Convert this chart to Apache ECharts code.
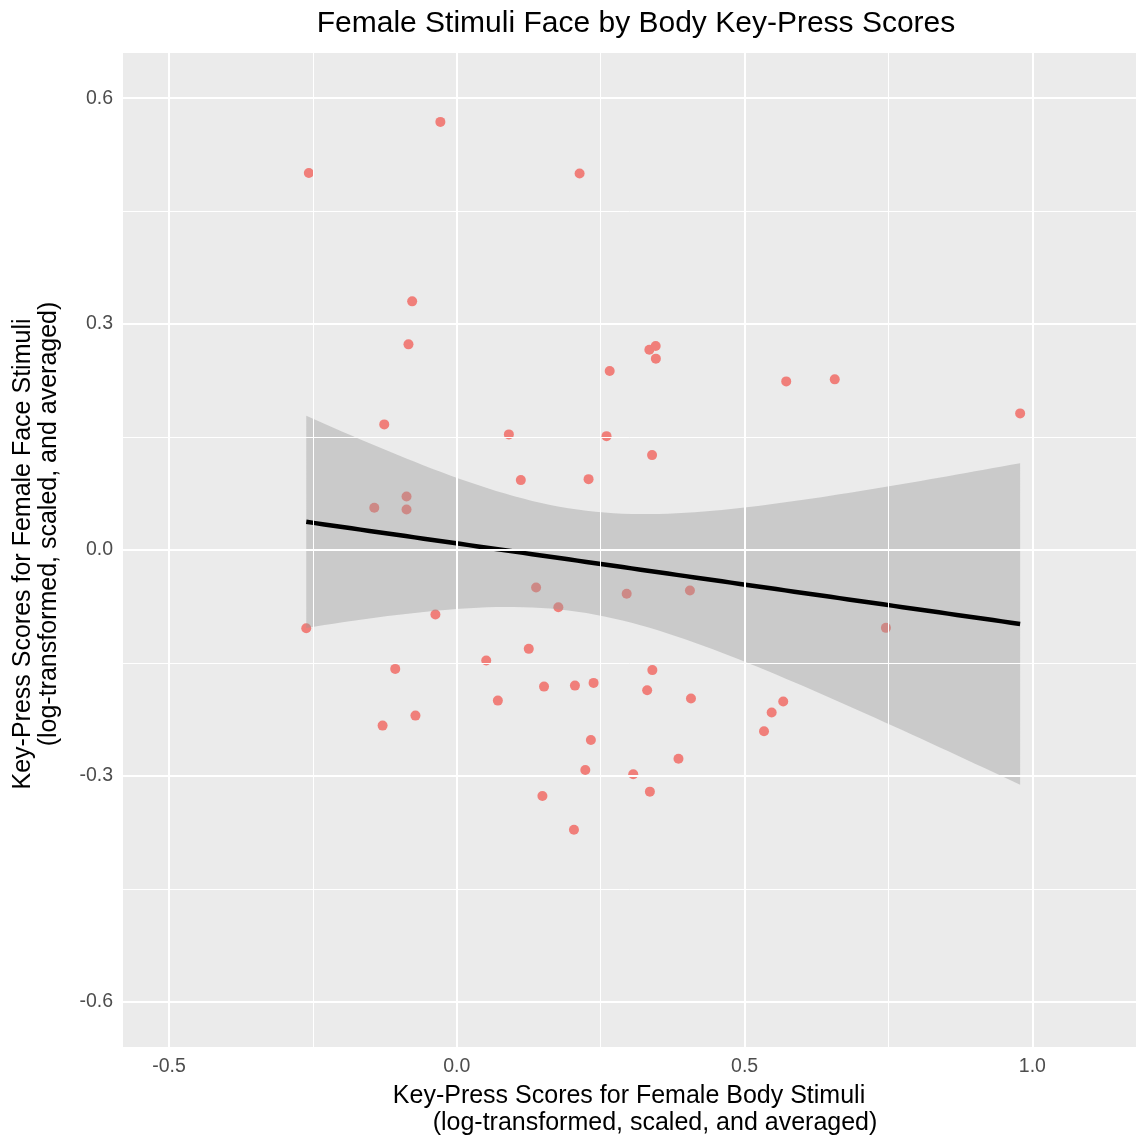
<!DOCTYPE html>
<html>
<head>
<meta charset="utf-8">
<script src="https://cdn.jsdelivr.net/npm/echarts@6/dist/echarts.min.js"></script>
<style>
html,body{margin:0;padding:0;background:#fff;}
#chart{width:1136px;height:1140px;}
</style>
</head>
<body>
<div id="chart"></div>
<script>
// ---- data ----
const bodyScores = [
  -0.2571, -0.0286, 0.2133, -0.0776, -0.0840, 0.3345, 0.3455, 0.3458, 0.2656, 0.5723,
  0.6566, 0.9787, -0.1261, 0.0904, 0.2601, 0.3392, 0.1112, 0.2289, -0.0874, -0.1434,
  -0.0874, 0.1377, 0.1764, 0.2951, 0.4050, 0.7455, -0.2616, -0.0372, 0.0511, 0.1250,
  -0.1070, 0.3397, 0.1515, 0.2052, 0.2376, 0.3307, 0.0713, 0.4068, 0.5671, 0.5470,
  -0.0719, -0.1290, 0.5337, 0.2329, 0.3851, 0.2232, 0.3065, 0.3354, 0.1487, 0.2035
];
const faceScores = [
  0.5007, 0.5685, 0.4999, 0.3302, 0.2731, 0.2660, 0.2708, 0.2541, 0.2376, 0.2239,
  0.2266, 0.1814, 0.1668, 0.1535, 0.1512, 0.1260, 0.0928, 0.0941, 0.0711, 0.0561,
  0.0538, -0.0498, -0.0760, -0.0582, -0.0538, -0.1034, -0.1039, -0.0857, -0.1468, -0.1313,
  -0.1579, -0.1595, -0.1814, -0.1801, -0.1765, -0.1863, -0.2000, -0.1973, -0.2013, -0.2159,
  -0.2199, -0.2332, -0.2408, -0.2522, -0.2773, -0.2921, -0.2977, -0.3209, -0.3266, -0.3714
];
const xTicks = [-0.5, 0.0, 0.5, 1.0];
const xMinorTicks = [-0.25, 0.25, 0.75];
const yTicks = [-0.6, -0.3, 0.0, 0.3, 0.6];
const yMinorTicks = [-0.45, -0.15, 0.15, 0.45];
const xLimits = [-0.58, 1.18];
const yLimits = [-0.66, 0.66];

const titleText = 'Female Stimuli Face by Body Key-Press Scores';
const xTitle1 = 'Key-Press Scores for Female Body Stimuli';
const xTitle2 = '(log-transformed, scaled, and averaged)';
const yTitle1 = 'Key-Press Scores for Female Face Stimuli';
const yTitle2 = '(log-transformed, scaled, and averaged)';

// ---- linear model + 95% confidence band (like geom_smooth(method="lm")) ----
const n = bodyScores.length;
const xbar = bodyScores.reduce((a, b) => a + b, 0) / n;
const ybar = faceScores.reduce((a, b) => a + b, 0) / n;
let sxx = 0, sxy = 0;
for (let i = 0; i < n; i++) {
  sxx += (bodyScores[i] - xbar) ** 2;
  sxy += (bodyScores[i] - xbar) * (faceScores[i] - ybar);
}
const slope = sxy / sxx;
const intercept = ybar - slope * xbar;
let sse = 0;
for (let i = 0; i < n; i++) {
  const r = faceScores[i] - (intercept + slope * bodyScores[i]);
  sse += r * r;
}
const sigma = Math.sqrt(sse / (n - 2));
function tQuantile975(df) {
  const z = 1.959963985;
  const z3 = z ** 3, z5 = z ** 5, z7 = z ** 7;
  return z + (z3 + z) / (4 * df) + (5 * z5 + 16 * z3 + 3 * z) / (96 * df * df)
    + (3 * z7 + 19 * z5 + 17 * z3 - 15 * z) / (384 * df ** 3);
}
const tq = tQuantile975(n - 2);
const xMin = Math.min(...bodyScores), xMax = Math.max(...bodyScores);
const fitLine = [], upper = [], lower = [];
const steps = 80;
for (let k = 0; k < steps; k++) {
  const x = xMin + (xMax - xMin) * k / (steps - 1);
  const fit = intercept + slope * x;
  const se = sigma * Math.sqrt(1 / n + (x - xbar) ** 2 / sxx);
  fitLine.push([x, fit]);
  upper.push([x, fit + tq * se]);
  lower.push([x, fit - tq * se]);
}

const FONT = '"Liberation Sans", Arial, Helvetica, sans-serif';
const chart = echarts.init(document.getElementById('chart'), null, {renderer: 'canvas'});

const gridLineData = []
  .concat(xMinorTicks.map(v => ({xAxis: v, lineStyle: {width: 1}})))
  .concat(yMinorTicks.map(v => ({yAxis: v, lineStyle: {width: 1}})))
  .concat(xTicks.map(v => ({xAxis: v, lineStyle: {width: 2}})))
  .concat(yTicks.map(v => ({yAxis: v, lineStyle: {width: 2}})));

const option = {
  animation: false,
  backgroundColor: '#ffffff',
  title: {
    text: titleText,
    left: 631,
    top: 4,
    textAlign: 'center',
    textStyle: {fontFamily: FONT, fontSize: 30, fontWeight: 'normal', color: '#000000'}
  },
  grid: {
    left: 123, top: 53, right: -3, bottom: 93,
    show: true, backgroundColor: '#EBEBEB', borderWidth: 0
  },
  xAxis: {
    type: 'value', min: xLimits[0], max: xLimits[1],
    axisLine: {show: false},
    axisTick: {show: true, length: 5, customValues: xTicks, lineStyle: {color: '#333333', width: 2}},
    axisLabel: {customValues: xTicks, margin: 10, color: '#4D4D4D', fontSize: 19.5, fontFamily: FONT,
      formatter: v => v.toFixed(1)},
    splitLine: {show: false}
  },
  yAxis: {
    type: 'value', min: yLimits[0], max: yLimits[1],
    axisLine: {show: false},
    axisTick: {show: true, length: 5, customValues: yTicks, lineStyle: {color: '#333333', width: 2}},
    axisLabel: {customValues: yTicks, margin: 10, color: '#4D4D4D', fontSize: 19.5, fontFamily: FONT,
      formatter: v => v.toFixed(1)},
    splitLine: {show: false}
  },
  graphic: [
    {type: 'text', x: 629, y: 1096, style: {text: xTitle1, font: '25px ' + FONT, fill: '#000', textAlign: 'center', textVerticalAlign: 'middle'}},
    {type: 'text', x: 655, y: 1123, style: {text: xTitle2, font: '25px ' + FONT, fill: '#000', textAlign: 'center', textVerticalAlign: 'middle'}},
    {type: 'text', x: 23, y: 554, rotation: Math.PI / 2, style: {text: yTitle1, font: '25px ' + FONT, fill: '#000', textAlign: 'center', textVerticalAlign: 'middle'}},
    {type: 'text', x: 49, y: 524, rotation: Math.PI / 2, style: {text: yTitle2, font: '25px ' + FONT, fill: '#000', textAlign: 'center', textVerticalAlign: 'middle'}}
  ],
  series: [
    {
      type: 'scatter', z: 1, data: [], silent: true,
      markLine: {
        silent: true, symbol: ['none', 'none'], label: {show: false},
        lineStyle: {color: '#FFFFFF', type: 'solid'},
        data: gridLineData
      }
    },
    {
      type: 'scatter', z: 2,
      data: bodyScores.map((x, i) => [x, faceScores[i]]),
      symbolSize: 10,
      itemStyle: {color: '#F07F7A', opacity: 1}
    },
    {
      type: 'custom', z: 3, silent: true,
      data: [[xMin, yLimits[0]]],
      renderItem: function (params, api) {
        const pts = upper.map(p => api.coord(p)).concat(lower.slice().reverse().map(p => api.coord(p)));
        return {type: 'polygon', shape: {points: pts}, style: {fill: '#999999', opacity: 0.4}};
      }
    },
    {
      type: 'line', z: 4, data: fitLine, showSymbol: false, symbol: 'none',
      lineStyle: {color: '#000000', width: 4.5}
    }
  ]
};
chart.setOption(option);
</script>
</body>
</html>
